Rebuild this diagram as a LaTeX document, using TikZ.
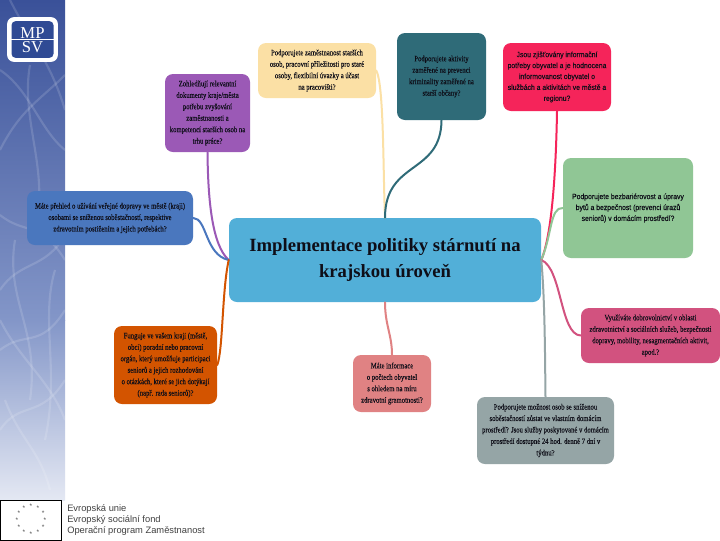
\documentclass[tikz,border=0pt]{standalone}
\usepackage{fontspec}
\setmainfont{Liberation Serif}
\newfontfamily\sansf{Liberation Sans}
\newfontfamily\serifc[FakeStretch=0.82,FakeBold=0.15]{Liberation Serif}
\newfontfamily\sansc[FakeStretch=0.9,FakeBold=0.15]{Liberation Sans}
\usetikzlibrary{calc}
\definecolor{cmain}{HTML}{52AFD8}
\definecolor{cyellow}{HTML}{FBE0A5}
\definecolor{cteal}{HTML}{2F6B78}
\definecolor{cred}{HTML}{F5245A}
\definecolor{cgreen}{HTML}{90C695}
\definecolor{cpurple}{HTML}{9B59B6}
\definecolor{cblue}{HTML}{4A77BE}
\definecolor{corange}{HTML}{D35400}
\definecolor{cpink}{HTML}{E08283}
\definecolor{cmag}{HTML}{D2527F}
\definecolor{cgray}{HTML}{95A5A6}
\definecolor{txt}{HTML}{0E0E18}
\definecolor{sidetop}{HTML}{3A5199}
\definecolor{sidemid}{HTML}{8396C8}
\definecolor{sidelow}{HTML}{E4E8F3}
\definecolor{logoblue}{HTML}{2F4A94}
\tikzset{
 x=0.75pt,y=-0.75pt,
 box/.style={rounded corners=6pt,minimum width=#1*0.75pt,inner sep=0pt,align=center,text=txt,font=\serifc\fontsize{6.1}{8.6}\selectfont},
 sbox/.style={box=#1,font=\sansc\fontsize{5.7}{8.2}\selectfont},
 link/.style={line width=1.5pt,line cap=round},
 weave/.style={white,opacity=0.14,line width=1.6pt},
}
\begin{document}
\begin{tikzpicture}
\useasboundingbox (0,0) rectangle (720,540);
\fill[white] (0,0) rectangle (720,540);
% sidebar
\fill[top color=sidetop,bottom color=sidemid] (0,0) rectangle (65,320);
\fill[top color=sidemid,bottom color=sidelow] (0,320) rectangle (65,500);
\begin{scope}
\clip (0,0) rectangle (65,500);
\draw[weave] (0,70) .. controls (30,90) and (40,130) .. (65,150);
\draw[weave] (10,0) .. controls (30,40) and (50,60) .. (65,110);
\draw[weave] (0,150) .. controls (20,110) and (40,100) .. (65,75);
\draw[weave] (30,65) .. controls (20,120) and (50,170) .. (35,230);
\draw[weave] (0,215) .. controls (25,235) and (40,220) .. (65,260);
\draw[weave] (0,290) .. controls (20,260) and (45,270) .. (65,235);
\draw[weave] (15,240) .. controls (5,300) and (40,330) .. (30,400);
\draw[weave] (0,350) .. controls (25,330) and (40,350) .. (65,310);
\draw[weave] (0,320) .. controls (20,360) and (50,380) .. (65,420);
\draw[weave] (55,270) .. controls (40,320) and (60,370) .. (45,440);
\draw[weave] (0,430) .. controls (20,400) and (40,420) .. (65,380);
\draw[weave] (5,400) .. controls (20,440) and (40,450) .. (50,490);
\end{scope}
\node[fill=white,rounded corners=5pt,minimum width=38pt,minimum height=33.5pt,inner sep=0pt] (logo) at (32.5,39.5) {};
\node[fill=logoblue,rounded corners=3pt,minimum width=31.5pt,minimum height=27.5pt,inner sep=0pt] (logoback) at (32.5,39.5) {};
\node[text=white,inner sep=0pt,anchor=south,font=\fontsize{12.5}{12.5}\selectfont] (logomp) at (32.5,38.5) {MP};
\node[text=white,inner sep=0pt,anchor=north,font=\fontsize{12.5}{12.5}\selectfont] (logosv) at (32.5,41) {SV};
\draw[white,line width=0.4pt] (logoback.west) -- (logoback.east);
% boxes
\node[box=118,fill=cyellow,minimum height=41.25pt] (yellow) at (317,70.5) {Podporujete zaměstnanost starších\\osob, pracovní příležitosti pro staré\\osoby, flexibilní úvazky a účast\\na pracovišti?};
\node[box=89,fill=cteal,minimum height=65.25pt] (teal) at (441.5,76.5) {Podporujete aktivity\\zaměřené na prevenci\\kriminality zaměřené na\\starší občany?};
\node[sbox=108,fill=cred,minimum height=51pt] (red) at (557,77) {Jsou zjišťovány informační\\potřeby obyvatel a je hodnocena\\informovanost obyvatel o\\službách a aktivitách ve městě a\\regionu?};
\node[sbox=130,fill=cgreen,minimum height=75pt] (green) at (628,208) {Podporujete bezbariérovost a úpravy\\bytů a bezpečnost (prevenci úrazů\\seniorů) v domácím prostředí?};
\node[box=85,fill=cpurple,minimum height=58.5pt] (purple) at (207.5,113) {Zohledňují relevantní\\dokumenty kraje/města\\potřebu zvyšování\\zaměstnanosti a\\kompetencí starších osob na\\trhu práce?};
\node[box=166,fill=cblue,minimum height=40.5pt] (blue) at (110,218) {Máte přehled o užívání veřejné dopravy ve městě (kraji)\\osobami se sníženou soběstačností, respektive\\zdravotním postižením a jejich potřebách?};
\node[box=103,fill=corange,minimum height=58.5pt] (orange) at (165.5,365) {Funguje ve vašem kraji (městě,\\obci) poradní nebo pracovní\\orgán, který umožňuje participaci\\seniorů a jejich rozhodování\\o otázkách, které se jich dotýkají\\(např. rada seniorů)?};
\node[box=78,fill=cpink,minimum height=42.75pt] (pink) at (392,383.5) {Máte informace\\o počtech obyvatel\\s ohledem na míru\\zdravotní gramotnosti?};
\node[box=139,fill=cmag,minimum height=41.25pt] (mag) at (650.5,335.5) {Využíváte dobrovolnictví v oblasti\\zdravotnictví a sociálních služeb, bezpečnosti\\dopravy, mobility, nesagmentačních aktivit,\\apod.?};
\node[box=137,fill=cgray,minimum height=50.25pt] (gray) at (545.5,430.5) {Podporujete možnost osob se sníženou\\soběstačností zůstat ve vlastním domácím\\prostředí? Jsou služby poskytované v domácím\\prostředí dostupné 24 hod. denně 7 dní v\\týdnu?};
\node[fill=cmain,rounded corners=6pt,minimum width=234pt,minimum height=63pt,inner sep=0pt,align=center,text=txt,font=\fontsize{14}{20}\selectfont\bfseries] (main) at (385,260) {Implementace politiky stárnutí na\\krajskou úroveň};
% connectors
\coordinate (L) at (main.west);
\coordinate (R) at (main.east);
\coordinate (T) at (main.north);
\draw[link,cpurple] (purple.south) .. controls (208,200) and (212,245) .. (L);
\draw[link,cblue] (blue.east) .. controls (207,218) and (205,255) .. (L);
\draw[link,corange] (orange.east) .. controls (223,350) and (222,290) .. (L);
\draw[link,cyellow] (yellow.east) .. controls (384,85) and (383,170) .. (T);
\draw[link,cteal] (teal.south) .. controls (441,175) and (385,160) .. (T);
\draw[link,cpink] (main.south) .. controls (385,325) and (392,335) .. (pink.north);
\draw[link,cred] (red.south) .. controls (556,170) and (552,235) .. (R);
\draw[link,cgreen] (green.west) .. controls (550,207) and (552,235) .. (R);
\draw[link,cmag] (R) .. controls (562,268) and (560,335) .. (mag.west);
\draw[link,cgray] (R) .. controls (545,300) and (545,360) .. (gray.north);
% footer
\node[draw=black,line width=0.6pt,fill=white,minimum width=46pt,minimum height=30pt,inner sep=0pt] (flag) at (31,520) {};
\foreach \a in {0,30,...,330}{\node[inner sep=0pt,font=\sansf\fontsize{5}{5}\selectfont,text=black!70] at ($(flag.center)+(\a:10.5pt)$) {*};}
\node[anchor=west,inner sep=0pt,align=left,text=black!75,font=\sansf\fontsize{7}{8.6}\selectfont] (foot) at (67,520) {Evropská unie\\Evropský sociální fond\\Operační program Zaměstnanost};
\end{tikzpicture}
\end{document}
